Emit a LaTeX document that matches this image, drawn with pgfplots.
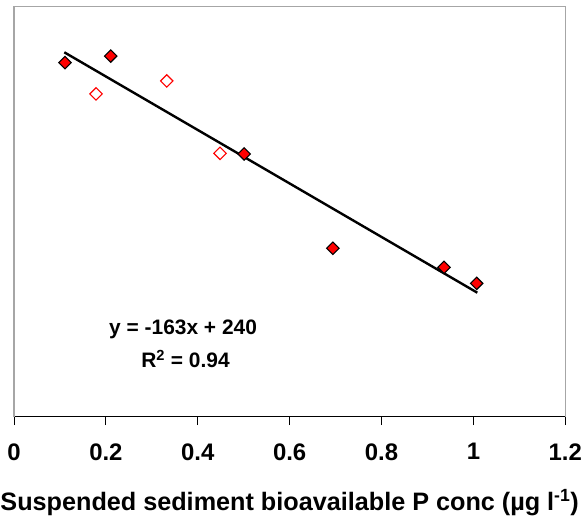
\documentclass[border=0pt]{standalone}
\usepackage{fontspec}
\setmainfont{Liberation Sans}
\usepackage{pgfplots}
\pgfplotsset{compat=1.18}
\begin{document}
\begin{tikzpicture}
\begin{axis}[
  name=ax,
  scale only axis,
  width=551.3bp, height=410bp,
  xmin=0, xmax=1.2, ymin=0, ymax=250,
  axis x line*=bottom,
  axis y line=none,
  x axis line style={black, line width=1bp},
  xtick={0,0.2,0.4,0.6,0.8,1,1.2},
  ytick=\empty,
  tick align=outside,
  major tick length=8.3bp,
  xtick style={black, line width=1bp},
  xticklabel style={font=\fontsize{24}{28}\selectfont\bfseries, yshift=-15bp},
  /pgf/number format/assume math mode=true,
  xlabel={Suspended sediment bioavailable P conc (µg l\textsuperscript{-1})},
  xlabel style={font=\fontsize{25.3}{28}\selectfont\bfseries, at={(axis description cs:0.5,0)}, anchor=base, yshift=-93.3bp},
  clip=false,
]
\draw[gray!70, line width=1.5bp] (rel axis cs:0,0) -- (rel axis cs:0,1) -- (rel axis cs:1,1) -- (rel axis cs:1,0);
\addplot[black, line width=2.4bp, forget plot] coordinates {(0.1095,222.2) (1.0085,75.6)};
\addplot[only marks, mark=square*, mark size=4.4bp, mark options={rotate=45, fill=red, draw=black, line width=1.1bp}] coordinates {
(0.111,215.9) (0.2105,219.9) (0.501,160.2) (0.694,102.7) (0.936,91.1) (1.007,81.3)};
\addplot[only marks, mark=square*, mark size=4.4bp, mark options={rotate=45, fill=white, draw=red, line width=1.1bp}] coordinates {
(0.1785,196.8) (0.3325,204.7) (0.4485,160.6)};
\node[anchor=base, font=\fontsize{21}{24}\selectfont\bfseries] at (axis cs:0.368,50.4) {y = -163x + 240};
\node[anchor=base, font=\fontsize{21}{24}\selectfont\bfseries] at (axis cs:0.3734,29.9) {R\textsuperscript{2} = 0.94};
\end{axis}
\pgfresetboundingbox
\path ([xshift=-14bp,yshift=-103.3bp]ax.south west) rectangle ([xshift=20.7bp,yshift=6.7bp]ax.north east);
\end{tikzpicture}
\end{document}
